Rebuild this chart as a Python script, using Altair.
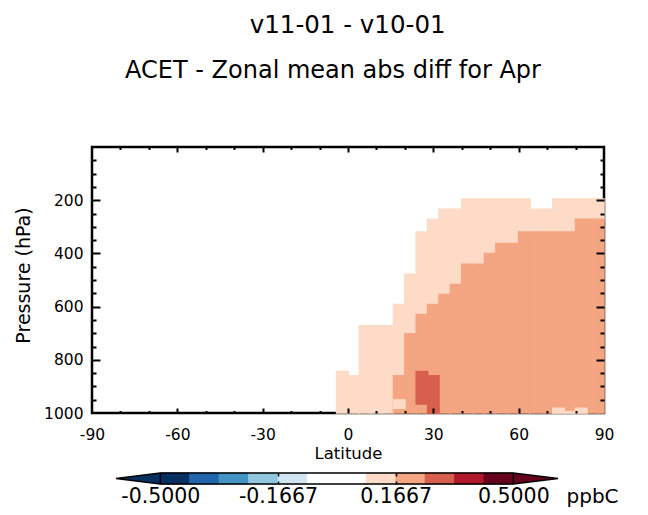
import altair as alt
import pandas as pd

FONT = "DejaVu Sans"

# ---------------- data ----------------
# latitude columns (4-degree grid boxes) that hold non-white values
lat_lo = [-4, 0, 4, 8, 12, 16, 20, 24, 28, 32, 36, 40, 44, 48, 52, 56, 60, 64, 68, 72, 76, 80, 84, 88]
lat_hi = [0, 4, 8, 12, 16, 20, 24, 28, 32, 36, 40, 44, 48, 52, 56, 60, 64, 68, 72, 76, 80, 84, 88, 90]
# pressure (hPa) where the 0.0833-0.1667 class begins (from the top), per column
light_top = [844, 860, 672, 672, 672, 592, 479, 320, 272, 234, 234, 196, 196, 196, 196, 196,
             196, 234, 234, 196, 196, 196, 196, 196]
# pressure (hPa) where the 0.1667-0.25 class begins, per column (1000 = none)
salmon_top = [1000, 1000, 1000, 1000, 1000, 860, 702, 630, 592, 555, 517, 441, 441, 401, 363, 363,
              320, 320, 320, 320, 320, 272, 272, 272]
p_surface = 1000
light_value = 0.12
salmon_value = 0.21

# isolated patches (lat box, pressure range, value)
patch_lat_lo = [24, 28, 16, 72, 76, 80]
patch_lat_hi = [28, 32, 20, 76, 80, 84]
patch_p_top = [844, 860, 951, 982, 995, 982]
patch_p_bot = [966, 1000, 982, 1000, 1000, 1000]
patch_value = [0.29, 0.29, 0.12, 0.12, 0.12, 0.12]

# colour bar levels
cb_edges = [-0.5, -0.4167, -0.3333, -0.25, -0.1667, -0.0833, 0.0, 0.0833, 0.1667, 0.25, 0.3333, 0.4167, 0.5]
cb_thresholds = [-0.4167, -0.3333, -0.25, -0.1667, -0.0833, 0.0833, 0.1667, 0.25, 0.3333, 0.4167]
cb_colors = ["#053061", "#2166ac", "#4393c3", "#92c5de", "#d1e5f0", "#ffffff",
             "#fddbc7", "#f4a582", "#d6604d", "#b2182b", "#67001f"]
cb_label_values = [-0.5, -1 / 6, 1 / 6, 0.5]
cb_inner_ticks = [-1 / 6, 1 / 6]
cb_unit = "ppbC"

# axis ticks
x_major = [-90, -60, -30, 0, 30, 60, 90]
x_ticks = [-80, -70, -60, -50, -40, -30, -20, -10, 0, 10, 20, 30, 40, 50, 60, 70, 80]
y_major = [200, 400, 600, 800, 1000]
y_ticks = [50, 100, 150, 200, 250, 300, 350, 400, 450, 500, 550, 600, 650, 700, 750, 800, 850, 900, 950]

title1 = "v11-01 - v10-01"
title2 = "ACET - Zonal mean abs diff for Apr"

# ---------------- tables ----------------
rows = []
for i in range(len(lat_lo)):
    if light_top[i] < salmon_top[i]:
        rows.append(dict(lat0=lat_lo[i], lat1=lat_hi[i], p0=light_top[i], p1=salmon_top[i], v=light_value))
    if salmon_top[i] < p_surface:
        rows.append(dict(lat0=lat_lo[i], lat1=lat_hi[i], p0=salmon_top[i], p1=p_surface, v=salmon_value))
for j in range(len(patch_lat_lo)):
    rows.append(dict(lat0=patch_lat_lo[j], lat1=patch_lat_hi[j], p0=patch_p_top[j], p1=patch_p_bot[j],
                     v=patch_value[j]))
cells = pd.DataFrame(rows)

W, H = 512, 266

color_scale = alt.Scale(type="threshold", domain=cb_thresholds, range=cb_colors)
x_scale = alt.Scale(domain=[-90, 90], nice=False, zero=False)
y_scale = alt.Scale(domain=[0, 1000], reverse=True, nice=False, zero=False)

heat = alt.Chart(cells).mark_rect(strokeWidth=1.6).encode(
    x=alt.X("lat0:Q", scale=x_scale,
            axis=alt.Axis(orient="bottom", values=x_major, labelExpr="'' + datum.value",
                          ticks=False, tickSize=0, domain=False, grid=False,
                          labelPadding=14.5, labelFont=FONT, labelFontSize=15.5, labelColor="black",
                          labelFlush=False, labelOverlap=False,
                          title="Latitude", titleFont=FONT, titleFontSize=16.5, titleFontWeight="normal",
                          titleColor="black", titleY=40, titleBaseline="middle")),
    x2="lat1:Q",
    y=alt.Y("p0:Q", scale=y_scale,
            axis=alt.Axis(orient="left", values=y_major, labelExpr="'' + datum.value",
                          ticks=False, tickSize=0, domain=False, grid=False,
                          labelPadding=9, labelFont=FONT, labelFontSize=15.5, labelColor="black",
                          labelFlush=False, labelOverlap=False,
                          title="Pressure (hPa)", titleFont=FONT, titleFontSize=19, titleFontWeight="normal",
                          titleColor="black", titleX=-68.5, titleY=128, titleAngle=270,
                          titleBaseline="middle", titleAlign="center")),
    y2="p1:Q",
    color=alt.Color("v:Q", scale=color_scale, legend=None),
    stroke=alt.Stroke("v:Q", scale=color_scale, legend=None),
)


def tick_axis(orient, offset, values, test, major, minor):
    return alt.Axis(orient=orient, offset=offset, values=values, labels=False, domain=False, grid=False,
                    ticks=True, tickColor="black", tickWidth=2,
                    tickSize={"condition": {"test": test, "value": major}, "value": minor},
                    zindex=3)


x_test = "datum.value % 30 === 0"
y_test = "datum.value % 200 === 0"

ticks_a = alt.Chart(cells).mark_rect(opacity=0).encode(
    x=alt.X("lat0:Q", scale=x_scale, title=None, axis=tick_axis("top", -H, x_ticks, x_test, 5, 2.5)),
    y=alt.Y("p0:Q", scale=y_scale, title=None, axis=tick_axis("right", -W, y_ticks, y_test, 8, 4)),
)
ticks_b = alt.Chart(cells).mark_rect(opacity=0).encode(
    x=alt.X("lat0:Q", scale=x_scale, title=None, axis=tick_axis("bottom", -H, x_ticks, x_test, 5, 2.5)),
    y=alt.Y("p0:Q", scale=y_scale, title=None, axis=tick_axis("left", -W, y_ticks, y_test, 8, 4)),
)

main = alt.layer(heat, ticks_a, ticks_b).resolve_axis(x="independent", y="independent").properties(
    width=W, height=H,
    title=alt.TitleParams(title2, font=FONT, fontSize=24, fontWeight="normal", color="black",
                          anchor="middle", dx=-15, offset=63),
    view=alt.ViewBackground(stroke="black", strokeWidth=2.5),
)

# ---------------- colour bar ----------------
CB_H = 11
cb = pd.DataFrame({"lo": cb_edges[:-1], "hi": cb_edges[1:]})
cb["mid"] = (cb["lo"] + cb["hi"]) / 2
cb["b0"] = 0.0
cb["b1"] = 1.0

cb_x_scale = alt.Scale(domain=[-0.6935, 0.7569], nice=False, zero=False)
cb_y_scale = alt.Scale(domain=[0, 1], nice=False, zero=False)
tip_left, tip_right = -0.6255, 0.6266

bar = alt.Chart(cb).mark_rect(strokeWidth=0.8).encode(
    x=alt.X("lo:Q", scale=cb_x_scale,
            axis=alt.Axis(orient="bottom", values=cb_label_values,
                          labelExpr="replace(format(datum.value, '.4f'), '\u2212', '-')",
                          ticks=False, tickSize=0, domain=False, grid=False, labelPadding=2.5,
                          labelFont=FONT, labelFontSize=20.5, labelColor="black",
                          labelFlush=False, labelOverlap=False,
                          title=cb_unit, titleFont=FONT, titleFontSize=20, titleFontWeight="normal",
                          titleColor="black", titleX=474, titleY=18.7, titleAlign="left",
                          titleBaseline="alphabetic")),
    x2="hi:Q",
    y=alt.Y("b0:Q", scale=cb_y_scale, axis=None),
    y2="b1:Q",
    color=alt.Color("mid:Q", scale=color_scale, legend=None),
    stroke=alt.Stroke("mid:Q", scale=color_scale, legend=None),
)

tri = pd.DataFrame({
    "side": ["L", "L", "R", "R"],
    "x": [tip_left, cb_edges[0], cb_edges[-1], tip_right],
    "ylo": [0.5, 0.0, 0.0, 0.5],
    "yhi": [0.5, 1.0, 1.0, 0.5],
})
tris = alt.Chart(tri).mark_area().encode(
    x=alt.X("x:Q", scale=cb_x_scale, axis=None),
    y=alt.Y("ylo:Q", scale=cb_y_scale, axis=None),
    y2="yhi:Q",
    color=alt.Color("side:N", scale=alt.Scale(domain=["L", "R"], range=[cb_colors[0], cb_colors[-1]]),
                    legend=None),
)

outline = pd.DataFrame({
    "g": ["o"] * 7 + ["s1", "s1", "s2", "s2"],
    "k": [0, 1, 2, 3, 4, 5, 6, 0, 1, 0, 1],
    "x": [cb_edges[0], tip_left, cb_edges[0], cb_edges[-1], tip_right, cb_edges[-1], cb_edges[0],
          cb_edges[0], cb_edges[0], cb_edges[-1], cb_edges[-1]],
    "y": [1, 0.5, 0, 0, 0.5, 1, 1, 0, 1, 0, 1],
})
edge = alt.Chart(outline).mark_line(color="black", strokeWidth=1.5).encode(
    x=alt.X("x:Q", scale=cb_x_scale, axis=None),
    y=alt.Y("y:Q", scale=cb_y_scale, axis=None),
    detail="g:N",
    order="k:Q",
)


def cb_tick_axis(orient):
    return alt.Axis(orient=orient, offset=-CB_H, values=cb_inner_ticks, labels=False, domain=False,
                    grid=False, ticks=True, tickColor="black", tickWidth=1.5, tickSize=3, zindex=3)


cb_ticks_a = alt.Chart(cb).mark_rect(opacity=0).encode(
    x=alt.X("lo:Q", scale=cb_x_scale, title=None, axis=cb_tick_axis("top")),
    y=alt.Y("b0:Q", scale=cb_y_scale, axis=None),
)
cb_ticks_b = alt.Chart(cb).mark_rect(opacity=0).encode(
    x=alt.X("lo:Q", scale=cb_x_scale, title=None, axis=cb_tick_axis("bottom")),
    y=alt.Y("b0:Q", scale=cb_y_scale, axis=None),
)

colorbar = alt.layer(bar, tris, edge, cb_ticks_a, cb_ticks_b).resolve_scale(
    color="independent").resolve_axis(x="independent").properties(width=W, height=CB_H)

chart = alt.vconcat(
    main, colorbar, spacing=7,
    title=alt.TitleParams(title1, font=FONT, fontSize=24.5, fontWeight="normal", color="black",
                          anchor="middle", dx=32, offset=19),
).configure_view(strokeWidth=0).properties(background="white")

chart.save("out.html", embed_options={"renderer": "svg", "actions": False})
